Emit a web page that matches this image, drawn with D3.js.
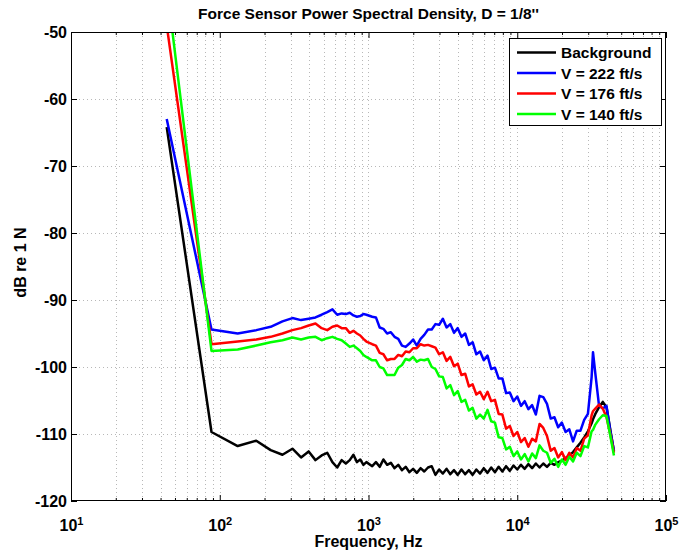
<!DOCTYPE html>
<html>
<head>
<meta charset="utf-8">
<script src="https://cdn.jsdelivr.net/npm/d3@7"></script>
<style>
  body { margin: 0; background: #fff; }
  text { font-family: "Liberation Sans", Arial, sans-serif; }
</style>
</head>
<body>
<svg id="chart"></svg>
<script>
// frequency bins (Hz), shared by all series
const freq = [44, 88, 132, 176, 220, 264, 308, 352, 396, 440, 484, 528, 572, 616, 660, 704, 748, 792, 836, 880, 924, 968,
  1059, 1122, 1189, 1259, 1334, 1413, 1496, 1585, 1679, 1778, 1884, 1995, 2113, 2239, 2371, 2512, 2661, 2818, 2985,
  3162, 3350, 3548, 3758, 3981, 4217, 4467, 4732, 5012, 5309, 5623, 5957, 6310, 6683, 7079, 7499, 7943, 8414, 8913, 9441,
  10000, 10593, 11220, 11885, 12589, 13335, 14125, 14962, 15849, 16788, 17783, 18836, 19953, 21135, 22387, 23714, 25119,
  26607, 28184, 29854, 31623, 32300, 33497, 35481, 37584, 39811, 42170, 44668];

const background = [-64.2, -109.7, -111.8, -111.0, -112.4, -113.1, -112.2, -113.5, -112.6, -113.9, -113.2, -112.8, -114.2, -115.0, -113.9, -114.4, -113.9, -113.1, -114.2, -113.8, -114.6, -114.2,
  -114.8, -114.2, -114.9, -113.8, -114.6, -114.3, -115.1, -114.6, -115.4, -114.9, -115.7, -115.2, -115.8, -115.1, -115.6, -115.0, -114.8, -116.1, -115.3,
  -115.9, -115.2, -116.0, -115.4, -116.1, -115.3, -116.0, -115.4, -116.1, -115.3, -115.9, -115.1, -115.8, -115.0, -115.7, -114.9, -115.6, -114.8, -115.5, -114.7,
  -115.3, -114.6, -115.2, -114.5, -115.1, -114.4, -115.0, -114.4, -114.9, -114.3, -114.6, -114.2, -114.0, -113.6, -113.2, -112.7, -112.0,
  -111.3, -110.5, -109.6, -108.4, -107.8, -107.0, -106.0, -105.2, -106.0, -109.3, -112.6];

const v222 = [-63.0, -94.4, -95.0, -94.5, -94.0, -93.2, -92.7, -93.0, -92.8, -92.6, -92.2, -91.8, -91.4, -92.2, -92.0, -92.1, -91.9, -92.3, -92.5, -92.4, -92.1, -92.2,
  -92.5, -92.6, -94.1, -94.3, -95.0, -94.8, -95.5, -95.8, -96.8, -97.0, -96.5, -95.9, -96.8, -95.8, -95.2, -94.4, -94.4, -93.6, -93.7,
  -92.8, -94.1, -93.6, -94.9, -94.2, -95.5, -95.0, -96.7, -96.3, -98.1, -97.7, -99.0, -98.3, -100.3, -100.1, -101.7, -101.7, -103.9, -103.8, -105.1,
  -104.4, -105.8, -105.1, -106.3, -105.7, -107.1, -104.3, -104.5, -105.5, -107.7, -107.5, -109.0, -108.3, -109.7, -109.3, -111.1, -109.5,
  -109.5, -107.9, -107.0, -101.5, -97.8, -101.0, -105.8, -106.2, -105.8, -109.5, -112.5];

const v176 = [-49.0, -96.6, -96.2, -95.9, -95.5, -95.0, -94.5, -94.2, -93.8, -93.5, -94.2, -94.5, -94.0, -93.8, -94.2, -94.2, -94.9, -94.6, -95.0, -95.3, -95.8, -96.2,
  -96.6, -96.8, -97.9, -98.1, -99.0, -98.8, -98.8, -98.2, -98.4, -97.7, -97.8, -97.2, -97.2, -96.6, -96.8, -96.7, -96.9, -97.1, -98.1,
  -97.8, -99.1, -98.5, -99.9, -99.5, -101.2, -101.0, -102.9, -102.6, -104.1, -103.7, -104.8, -103.7, -105.1, -104.9, -107.0, -107.1, -109.2, -108.8, -110.3,
  -109.7, -111.2, -110.6, -111.9, -110.7, -111.1, -108.5, -109.1, -110.3, -112.5, -112.1, -113.5, -112.7, -113.9, -112.8, -113.5, -112.1,
  -112.5, -110.7, -110.2, -107.2, -106.6, -106.2, -105.6, -106.2, -107.5, -110.0, -112.8];

const v140 = [-43.0, -97.6, -97.4, -96.8, -96.3, -96.0, -95.6, -95.9, -95.6, -95.5, -96.0, -95.7, -95.5, -95.8, -96.0, -96.5, -97.0, -96.8, -97.2, -97.6, -98.2, -98.5,
  -99.0, -99.0, -100.0, -100.2, -101.2, -101.2, -101.2, -100.1, -99.7, -98.8, -99.0, -98.5, -99.2, -98.9, -99.0, -98.8, -100.0, -100.3, -101.4,
  -101.5, -103.2, -102.7, -104.2, -103.6, -105.2, -104.9, -106.5, -106.1, -107.7, -107.1, -107.7, -106.4, -108.1, -108.3, -110.5, -110.6, -112.3, -111.9, -113.3,
  -112.6, -113.8, -113.0, -114.1, -112.9, -113.6, -111.7, -112.5, -112.8, -114.3, -113.7, -114.9, -113.8, -114.6, -113.4, -114.1, -112.8,
  -113.3, -111.8, -112.0, -109.6, -109.4, -108.6, -107.8, -107.2, -107.3, -110.2, -113.2];

const seriesNames = ["Background", "V = 222 ft/s", "V = 176 ft/s", "V = 140 ft/s"];
const seriesColors = ["#000000", "#0000ff", "#ff0000", "#00ff00"];
const seriesValues = [background, v222, v176, v140];

const yTicks = [-120, -110, -100, -90, -80, -70, -60, -50];
const xDecades = [10, 100, 1000, 10000, 100000];

const width = 681;
const height = 554;
const plot = { left: 71, right: 666, top: 32, bottom: 501 };

const svg = d3.select("#chart")
  .attr("width", width)
  .attr("height", height)
  .attr("viewBox", `0 0 ${width} ${height}`);

svg.append("rect").attr("width", width).attr("height", height).attr("fill", "#fff");

const x = d3.scaleLog().domain([10, 1e5]).range([plot.left, plot.right]);
const y = d3.scaleLinear().domain([-120, -50]).range([plot.bottom, plot.top]);

// minor ticks 2..9 per decade
const xMinor = [];
xDecades.slice(0, -1).forEach(d => { for (let m = 2; m <= 9; m++) xMinor.push(d * m); });

// grid (dotted, light)
const grid = svg.append("g").attr("class", "grid")
  .attr("stroke", "#b8b8b8")
  .attr("stroke-width", 1)
  .attr("stroke-dasharray", "1,3");

grid.selectAll("line.gx")
  .data(xDecades.slice(1, -1).concat(xMinor))
  .join("line")
  .attr("class", "gx")
  .attr("x1", d => Math.round(x(d)) + 0.5).attr("x2", d => Math.round(x(d)) + 0.5)
  .attr("y1", plot.top).attr("y2", plot.bottom);

grid.selectAll("line.gy")
  .data(yTicks.slice(1, -1))
  .join("line")
  .attr("class", "gy")
  .attr("x1", plot.left).attr("x2", plot.right)
  .attr("y1", d => Math.round(y(d)) + 0.5).attr("y2", d => Math.round(y(d)) + 0.5);

// data lines
svg.append("clipPath").attr("id", "clip")
  .append("rect")
  .attr("x", plot.left).attr("y", plot.top)
  .attr("width", plot.right - plot.left).attr("height", plot.bottom - plot.top);

const line = d3.line()
  .x((d, i) => x(freq[i]))
  .y(d => y(d));

svg.append("g").attr("clip-path", "url(#clip)")
  .selectAll("path")
  .data(seriesValues)
  .join("path")
  .attr("d", line)
  .attr("fill", "none")
  .attr("stroke", (d, i) => seriesColors[i])
  .attr("stroke-width", 2.5)
  .attr("stroke-linejoin", "round");

// axes: ticks point inward, MATLAB box style
const tickStyle = g => {
  g.select(".domain").remove();
  g.selectAll("line").attr("stroke", "#000");
};

const bottom = svg.append("g")
  .attr("transform", `translate(0,${plot.bottom})`)
  .call(d3.axisBottom(x).tickValues(xDecades).tickSize(-6).tickPadding(10).tickFormat(""))
  .call(tickStyle);

bottom.selectAll(".tick text")
  .attr("font-size", 16)
  .attr("font-weight", "bold")
  .attr("fill", "#000")
  .attr("dy", "1.25em")
  .each(function (d) {
    const t = d3.select(this);
    t.append("tspan").text("10");
    t.append("tspan").attr("dy", "-0.55em").attr("font-size", 11).text(Math.round(Math.log10(d)));
  });

svg.append("g")
  .attr("transform", `translate(0,${plot.bottom})`)
  .call(d3.axisBottom(x).tickValues(xMinor).tickSize(-3).tickFormat(""))
  .call(tickStyle);

svg.append("g")
  .attr("transform", `translate(0,${plot.top})`)
  .call(d3.axisTop(x).tickValues(xDecades).tickSize(-6).tickFormat(""))
  .call(tickStyle);

svg.append("g")
  .attr("transform", `translate(0,${plot.top})`)
  .call(d3.axisTop(x).tickValues(xMinor).tickSize(-3).tickFormat(""))
  .call(tickStyle);

// plain hyphen for negatives, as in the original figure
svg.append("g")
  .attr("transform", `translate(${plot.left},0)`)
  .call(d3.axisLeft(y).tickValues(yTicks).tickSize(-6).tickPadding(4).tickFormat(d => String(d)))
  .call(tickStyle)
  .selectAll(".tick text")
  .attr("font-size", 16)
  .attr("font-weight", "bold")
  .attr("fill", "#000");

svg.append("g")
  .attr("transform", `translate(${plot.right},0)`)
  .call(d3.axisRight(y).tickValues(yTicks).tickSize(-6).tickFormat(""))
  .call(tickStyle);

// axes box
svg.append("rect")
  .attr("x", plot.left + 0.5).attr("y", plot.top + 0.5)
  .attr("width", plot.right - plot.left - 1).attr("height", plot.bottom - plot.top - 1)
  .attr("fill", "none")
  .attr("stroke", "#000")
  .attr("stroke-width", 1);

// title and axis labels
svg.append("text")
  .attr("x", (plot.left + plot.right) / 2).attr("y", 19)
  .attr("text-anchor", "middle")
  .attr("font-size", 15.5)
  .attr("font-weight", "bold")
  .text("Force Sensor Power Spectral Density, D = 1/8''");

svg.append("text")
  .attr("x", (plot.left + plot.right) / 2).attr("y", 547)
  .attr("text-anchor", "middle")
  .attr("font-size", 16)
  .attr("font-weight", "bold")
  .text("Frequency, Hz");

svg.append("text")
  .attr("transform", `translate(26,${(plot.top + plot.bottom) / 2 - 4}) rotate(-90)`)
  .attr("text-anchor", "middle")
  .attr("font-size", 16)
  .attr("font-weight", "bold")
  .text("dB re 1 N");

// legend
const legend = svg.append("g").attr("class", "legend");
legend.append("rect")
  .attr("x", 509.5).attr("y", 38.5)
  .attr("width", 152).attr("height", 87)
  .attr("fill", "#fff")
  .attr("stroke", "#000");

const rows = legend.selectAll("g.row")
  .data(seriesNames)
  .join("g")
  .attr("class", "row")
  .attr("transform", (d, i) => `translate(0,${52.5 + i * 20.5})`);

rows.append("line")
  .attr("x1", 517).attr("x2", 556)
  .attr("stroke", (d, i) => seriesColors[i])
  .attr("stroke-width", 2.5);

rows.append("text")
  .attr("x", 561)
  .attr("dy", "0.36em")
  .attr("font-size", 15.5)
  .attr("font-weight", "bold")
  .text(d => d);
</script>
</body>
</html>
